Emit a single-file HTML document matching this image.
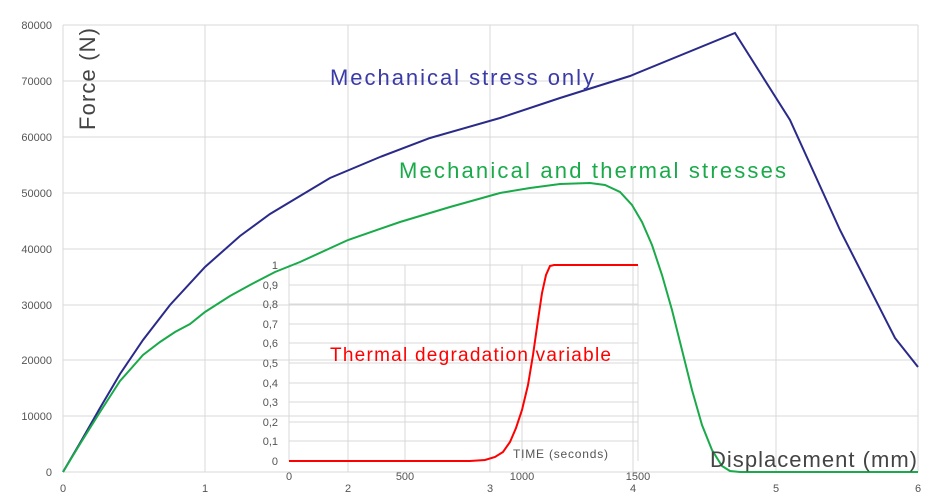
<!DOCTYPE html>
<html><head><style>body{margin:0;background:#fff}svg{display:block}text{font-family:"Liberation Sans",sans-serif}</style></head><body>
<svg width="945" height="504" viewBox="0 0 945 504">
<g stroke="#d9d9d9" stroke-width="1">
<line x1="63" y1="472" x2="918" y2="472"/><line x1="63" y1="416" x2="918" y2="416"/><line x1="63" y1="360" x2="918" y2="360"/><line x1="63" y1="305" x2="918" y2="305"/><line x1="63" y1="249" x2="918" y2="249"/><line x1="63" y1="193" x2="918" y2="193"/><line x1="63" y1="137" x2="918" y2="137"/><line x1="63" y1="81" x2="918" y2="81"/><line x1="63" y1="25" x2="918" y2="25"/>
<line x1="63" y1="25" x2="63" y2="472"/><line x1="205" y1="25" x2="205" y2="472"/><line x1="348" y1="25" x2="348" y2="472"/><line x1="490" y1="25" x2="490" y2="472"/><line x1="633" y1="25" x2="633" y2="472"/><line x1="776" y1="25" x2="776" y2="472"/><line x1="918" y1="25" x2="918" y2="472"/>
</g>
<g fill="#555" font-size="11" text-anchor="end">
<text x="52" y="476">0</text><text x="52" y="420">10000</text><text x="52" y="364">20000</text><text x="52" y="309">30000</text><text x="52" y="253">40000</text><text x="52" y="197">50000</text><text x="52" y="141">60000</text><text x="52" y="85">70000</text><text x="52" y="29">80000</text>
</g>
<g fill="#555" font-size="11" text-anchor="middle">
<text x="63" y="492">0</text><text x="205" y="492">1</text><text x="348" y="492">2</text><text x="490" y="492">3</text><text x="633" y="492">4</text><text x="776" y="492">5</text><text x="918" y="492">6</text>
</g>
<g stroke="#d9d9d9" stroke-width="1">
<line x1="289" y1="265" x2="289" y2="461"/><line x1="405" y1="265" x2="405" y2="461"/><line x1="522" y1="265" x2="522" y2="461"/><line x1="638" y1="265" x2="638" y2="461"/>
<line x1="289" y1="265" x2="638" y2="265"/><line x1="289" y1="285" x2="638" y2="285"/><line x1="289" y1="304" x2="638" y2="304"/><line x1="289" y1="324" x2="638" y2="324"/><line x1="289" y1="343" x2="638" y2="343"/><line x1="289" y1="363" x2="638" y2="363"/><line x1="289" y1="383" x2="638" y2="383"/><line x1="289" y1="402" x2="638" y2="402"/><line x1="289" y1="422" x2="638" y2="422"/><line x1="289" y1="441" x2="638" y2="441"/>
</g>
<g fill="#555" font-size="11" text-anchor="end">
<text x="278" y="465">0</text><text x="278" y="445">0,1</text><text x="278" y="426">0,2</text><text x="278" y="406">0,3</text><text x="278" y="387">0,4</text><text x="278" y="367">0,5</text><text x="278" y="347">0,6</text><text x="278" y="328">0,7</text><text x="278" y="308">0,8</text><text x="278" y="289">0,9</text><text x="278" y="269">1</text>
</g>
<g fill="#555" font-size="11" text-anchor="middle">
<text x="289" y="480">0</text><text x="405" y="480">500</text><text x="522" y="480">1000</text><text x="638" y="480">1500</text>
</g>
<text x="513" y="458" fill="#555" font-size="12" textLength="95">TIME (seconds)</text>
<polyline fill="none" stroke="#f00" stroke-width="2" points="289,461 470,461 485,460 495,457 503,452 510,442 516,428 522,410 528,385 533,355 538,320 542,293 546,275 550,266 554,265 638,265"/>
<polyline fill="none" stroke="#2a2a8a" stroke-width="2" points="63,472 80,443 100,408 120,374 143,340 170,305 205,267 240,236 270,214 300,196 330,178 380,157 430,138 500,118 560,98 630,76 735,33 790,120 840,230 895,338 918,367"/>
<polyline fill="none" stroke="#1aaa4a" stroke-width="2" points="63,472 80,444 100,412 120,381 143,355 160,342 175,332 190,324 205,312 230,296 250,285 275,272 300,262 348,240 400,222 450,207 500,193 530,188 560,184 590,183 605,185 620,192 632,205 642,222 652,245 662,275 672,310 682,350 692,390 702,425 712,450 722,466 730,471 740,472 918,472"/>
<text x="330" y="85" fill="#3a3aa8" font-size="22" textLength="264">Mechanical stress only</text>
<text x="399" y="178" fill="#1aaa4a" font-size="22" textLength="387">Mechanical and thermal stresses</text>
<text x="330" y="361" fill="#f00" font-size="19" textLength="281">Thermal degradation variable</text>
<text x="710" y="467" fill="#444" font-size="22" textLength="207">Displacement (mm)</text>
<text transform="translate(95,130) rotate(-90)" fill="#444" font-size="22" textLength="102">Force (N)</text>
</svg>
</body></html>
